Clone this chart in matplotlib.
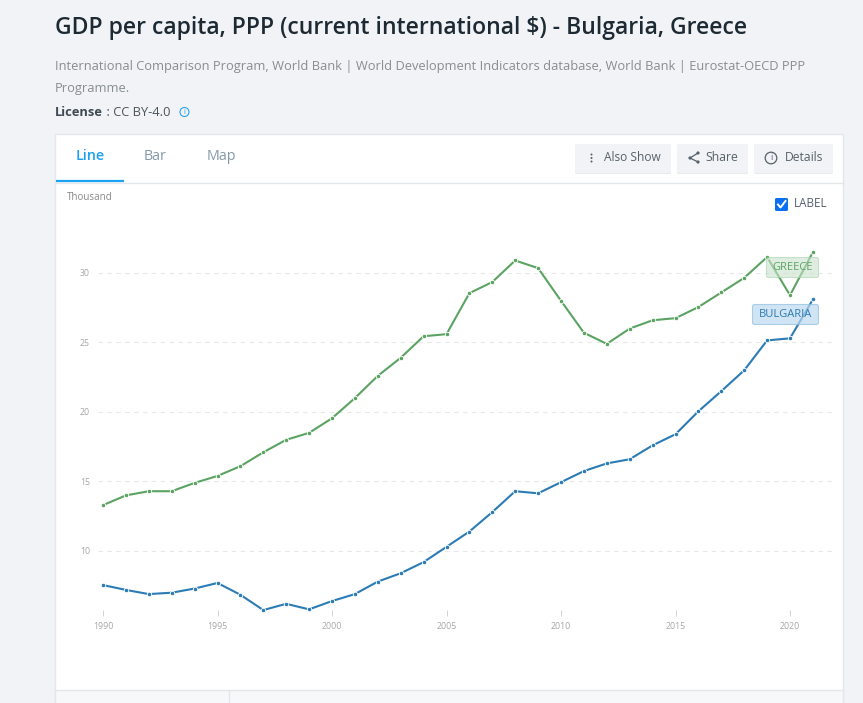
import matplotlib
matplotlib.use("Agg")
import matplotlib.pyplot as plt
from matplotlib.patches import Rectangle, FancyBboxPatch, Circle

# Data
years = list(range(1990, 2022))
greece = [13.3, 14.0, 14.3, 14.3, 14.9, 15.4, 16.1, 17.1, 18.0, 18.5, 19.55, 21.0, 22.6, 23.9, 25.45, 25.6,
          28.55, 29.35, 30.9, 30.35, 28.0, 25.7, 24.9, 26.0, 26.6, 26.75, 27.55, 28.6, 29.65, 31.15, 28.4, 31.5]
bulgaria = [7.55, 7.2, 6.9, 7.0, 7.3, 7.7, 6.85, 5.75, 6.2, 5.8, 6.4, 6.9, 7.8, 8.4, 9.2, 10.3,
            11.4, 12.8, 14.3, 14.15, 14.95, 15.75, 16.3, 16.6, 17.6, 18.4, 20.05, 21.5, 23.0, 25.15, 25.3, 28.1]
x_ticks = [1990, 1995, 2000, 2005, 2010, 2015, 2020]
y_ticks = [10, 15, 20, 25, 30]

title = "GDP per capita, PPP (current international $) - Bulgaria, Greece"
source_1 = "International Comparison Program, World Bank | World Development Indicators database, World Bank | Eurostat-OECD PPP"
source_2 = "Programme."

GREEN = "#5ba362"
BLUE = "#2b7bb5"
BTN_TEXT = "#56616a"
W, H = 863, 703

plt.rcParams["font.family"] = ["Open Sans", "DejaVu Sans"]
fig = plt.figure(figsize=(W / 100, H / 100), dpi=100, facecolor="#f1f3f7")

# page layer, in pixels
bg = fig.add_axes([0, 0, 1, 1])
bg.set_xlim(0, W)
bg.set_ylim(H, 0)
bg.axis("off")

bg.text(55, 27.5, title, fontsize=16.6, fontweight=600, color="#1d2a33", va="center")
bg.text(55, 66.5, source_1, fontsize=9.3, color="#878d92", va="center")
bg.text(55, 88.5, source_2, fontsize=9.3, color="#878d92", va="center")
bg.text(55, 112.5, "License", fontsize=9.3, fontweight="bold", color="#3f4a52", va="center")
bg.text(103, 112.5, " : CC BY-4.0", fontsize=9.3, color="#4b545b", va="center")
bg.add_patch(Circle((184.5, 112), 4.5, fc="none", ec="#2aa5f0", lw=0.8))
bg.text(184.5, 112, "i", fontsize=5.5, color="#2aa5f0", ha="center", va="center")

# card
bg.add_patch(Rectangle((55, 134), 788, 570, fc="white", ec="#e3e6ea", lw=1))
bg.plot([56, 843], [182.5, 182.5], color="#e3e6ea", lw=1)
bg.plot([56, 124], [181, 181], color="#1da1f2", lw=1.6, solid_capstyle="butt")
bg.text(90, 156.5, "Line", fontsize=10.3, fontweight=600, color="#1da1f2", ha="center", va="center")
bg.text(155.5, 156.5, "Bar", fontsize=10.3, color="#8599a8", ha="center", va="center")
bg.text(221.5, 156.5, "Map", fontsize=10.3, color="#8599a8", ha="center", va="center")

# buttons
for x0, x1 in [(575, 671), (677, 748), (754, 833)]:
    bg.add_patch(FancyBboxPatch((x0, 144), x1 - x0, 30, boxstyle="round,pad=0,rounding_size=2",
                                fc="#e6e8ec", ec="none"))
    bg.add_patch(FancyBboxPatch((x0, 144), x1 - x0, 29, boxstyle="round,pad=0,rounding_size=2",
                                fc="#f1f3f6", ec="none"))
bg.text(603.5, 157.5, "Also Show", fontsize=8.6, color=BTN_TEXT, va="center")
bg.text(705, 157.5, "Share", fontsize=8.8, color=BTN_TEXT, va="center")
bg.text(784.5, 157.5, "Details", fontsize=8.7, color=BTN_TEXT, va="center")
for dy in [154.5, 158, 161.5]:
    bg.add_patch(Circle((591.5, dy), 1.0, fc=BTN_TEXT, ec="none"))
bg.plot([698, 690, 698], [153, 158, 162], color=BTN_TEXT, lw=0.9)
for px, py in [(698, 153), (690, 158), (698, 162)]:
    bg.add_patch(Circle((px, py), 1.6, fc=BTN_TEXT, ec="none"))
bg.add_patch(Circle((771, 158), 5.8, fc="none", ec=BTN_TEXT, lw=0.9))
bg.text(771, 158, "i", fontsize=6.5, color=BTN_TEXT, ha="center", va="center")

# bottom strip under the chart
bg.add_patch(Rectangle((55, 689.5), 788, 14, fc="#f6f8fa", ec="#e3e6ea", lw=1))
bg.plot([228.5, 228.5], [690, 703], color="#e3e6ea", lw=1)

# chart, limits worked out so the axes sit on the card's plot area
px_year = 22.9
px_unit = 13.9
ax = fig.add_axes([98 / W, 1 - 610 / H, (833 - 98) / W, (610 - 190) / H])
ax.patch.set_alpha(0)
ax.set_xlim(1990 - (103 - 98) / px_year, 1990 + (833 - 103) / px_year)
ax.set_ylim(10 - (610 - 551) / px_unit, 10 + (551 - 190) / px_unit)
ax.grid(axis="y", linestyle=(0, (4, 4)), color="#e8e8e8", lw=0.8)
ax.set_axisbelow(True)
for spine in ax.spines.values():
    spine.set_visible(False)
ax.set_xticks(x_ticks)
ax.set_yticks(y_ticks)
ax.tick_params(axis="x", length=4, width=0.6, color="#cccccc", labelsize=6.3, labelcolor="#a6a6a6", pad=4.6)
ax.tick_params(axis="y", length=0, labelsize=6.3, labelcolor="#a6a6a6", pad=5.8)

for vals, col in [(greece, GREEN), (bulgaria, BLUE)]:
    ax.plot(years, vals, color=col, lw=1.5, marker="o", markersize=3.2,
            markerfacecolor=col, markeredgecolor="white", markeredgewidth=0.6, clip_on=False)

# overlay for the labels and header of the plot
top = fig.add_axes([0, 0, 1, 1])
top.set_xlim(0, W)
top.set_ylim(H, 0)
top.axis("off")
top.text(67, 197.5, "Thousand", fontsize=7.1, color="#8a8a8a", va="center")
top.add_patch(FancyBboxPatch((775, 198), 13, 13, boxstyle="round,pad=0,rounding_size=1.5", fc="#0a6ff2", ec="none"))
top.plot([778, 780.5, 785.5], [204.5, 207.5, 201], color="white", lw=1.4)
top.text(793.5, 203.5, "LABEL", fontsize=8.4, color="#56616a", va="center")

top.add_patch(FancyBboxPatch((766.5, 257.5), 52, 20, boxstyle="round,pad=0,rounding_size=2",
                             fc="#c9e2cc", ec="#a9d3ae", lw=0.8, alpha=0.6))
top.text(792.5, 267.5, "GREECE", fontsize=8, color=GREEN, ha="center", va="center")
top.add_patch(FancyBboxPatch((752.5, 304.5), 66, 20, boxstyle="round,pad=0,rounding_size=2",
                             fc="#bcd9ee", ec="#8fbfe0", lw=0.8, alpha=0.7))
top.text(785.5, 314.5, "BULGARIA", fontsize=8, color=BLUE, ha="center", va="center")

fig.savefig("out.png", dpi=100, facecolor=fig.get_facecolor())
